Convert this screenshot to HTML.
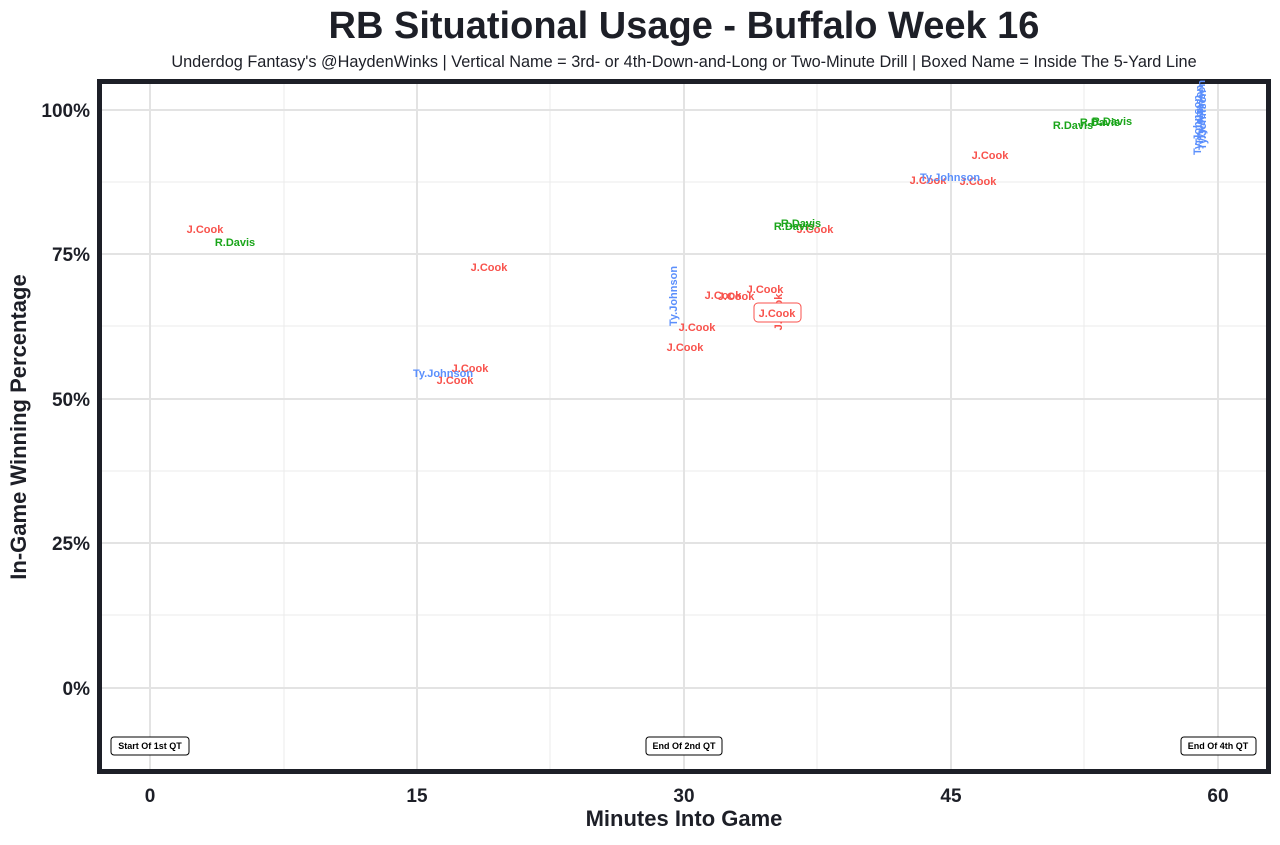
<!DOCTYPE html>
<html><head><meta charset="utf-8"><style>body{margin:0;background:#fff}</style></head><body>
<svg width="1280" height="840" xmlns="http://www.w3.org/2000/svg" font-family="Liberation Sans, sans-serif">
<rect width="1280" height="840" fill="#fff"/>
<text x="684" y="38" text-anchor="middle" font-size="38" font-weight="bold" fill="#1d1f27">RB Situational Usage - Buffalo Week 16</text>
<text x="684" y="67" text-anchor="middle" font-size="16.3" fill="#1d1f27">Underdog Fantasy's @HaydenWinks | Vertical Name = 3rd- or 4th-Down-and-Long or Two-Minute Drill | Boxed Name = Inside The 5-Yard Line</text>
<g stroke="#ebebeb" stroke-width="1">
<line x1="284" y1="80" x2="284" y2="773"/><line x1="550" y1="80" x2="550" y2="773"/><line x1="817" y1="80" x2="817" y2="773"/><line x1="1084" y1="80" x2="1084" y2="773"/>
<line x1="98" y1="182" x2="1270" y2="182"/><line x1="98" y1="326" x2="1270" y2="326"/><line x1="98" y1="471" x2="1270" y2="471"/><line x1="98" y1="615" x2="1270" y2="615"/>
</g>
<g stroke="#e3e3e3" stroke-width="2">
<line x1="150" y1="80" x2="150" y2="773"/><line x1="417" y1="80" x2="417" y2="773"/><line x1="684" y1="80" x2="684" y2="773"/><line x1="951" y1="80" x2="951" y2="773"/><line x1="1218" y1="80" x2="1218" y2="773"/>
<line x1="98" y1="110" x2="1270" y2="110"/><line x1="98" y1="254" x2="1270" y2="254"/><line x1="98" y1="399" x2="1270" y2="399"/><line x1="98" y1="543" x2="1270" y2="543"/><line x1="98" y1="688" x2="1270" y2="688"/>
</g>
<rect x="99.5" y="81.5" width="1169" height="690" fill="none" stroke="#1d1f27" stroke-width="5"/>
<g font-size="19" font-weight="bold" fill="#1d1f27" text-anchor="end">
<text x="90" y="117">100%</text><text x="90" y="261">75%</text><text x="90" y="406">50%</text><text x="90" y="550">25%</text><text x="90" y="695">0%</text>
</g>
<g font-size="19" font-weight="bold" fill="#1d1f27" text-anchor="middle">
<text x="150" y="802">0</text><text x="417" y="802">15</text><text x="684" y="802">30</text><text x="951" y="802">45</text><text x="1218" y="802">60</text>
</g>
<text x="684" y="826" text-anchor="middle" font-size="22" font-weight="bold" fill="#1d1f27">Minutes Into Game</text>
<text transform="translate(26,427) rotate(-90)" text-anchor="middle" font-size="22" font-weight="bold" fill="#1d1f27">In-Game Winning Percentage</text>
<g font-size="11" font-weight="bold" text-anchor="middle">
<g fill="#f8524c">
<text x="205" y="233">J.Cook</text><text x="489" y="271">J.Cook</text><text x="470" y="372">J.Cook</text><text x="455" y="384">J.Cook</text>
<text x="685" y="351">J.Cook</text><text x="697" y="331">J.Cook</text><text x="723" y="299">J.Cook</text><text x="736" y="300">J.Cook</text><text x="765" y="293">J.Cook</text>
<text transform="translate(782,312) rotate(-90)">J.Cook</text>
<text x="815" y="233">J.Cook</text><text x="928" y="184">J.Cook</text><text x="978" y="185">J.Cook</text><text x="990" y="159">J.Cook</text>
</g>
<rect x="754" y="303" width="47" height="19" rx="4" fill="#fff" stroke="#f8524c"/>
<text x="777" y="317" fill="#f8524c">J.Cook</text>
<g fill="#1aa51a">
<text x="235" y="246">R.Davis</text><text x="794" y="230">R.Davis</text><text x="801" y="227">R.Davis</text>
<text x="1073" y="129">R.Davis</text><text x="1100" y="126">R.Davis</text><text x="1112" y="125">R.Davis</text>
</g>
<g fill="#5b8ffc">
<text x="443" y="377">Ty.Johnson</text><text x="950" y="181">Ty.Johnson</text>
<text transform="translate(677,296) rotate(-90)">Ty.Johnson</text>
<text transform="translate(1201,125) rotate(-90)">Ty.Johnson</text>
<text transform="translate(1203,115) rotate(-90)">Ty.Johnson</text>
<text transform="translate(1205,110) rotate(-90)">Ty.Johnson</text>
<text transform="translate(1206,120) rotate(-90)">Ty.Johnson</text>
</g>
</g>
<g font-size="9" font-weight="bold" text-anchor="middle" fill="#000">
<rect x="111" y="737" width="78" height="18" rx="3" fill="#fff" stroke="#000"/><text x="150" y="749">Start Of 1st QT</text>
<rect x="646" y="737" width="76" height="18" rx="3" fill="#fff" stroke="#000"/><text x="684" y="749">End Of 2nd QT</text>
<rect x="1181" y="737" width="75" height="18" rx="3" fill="#fff" stroke="#000"/><text x="1218" y="749">End Of 4th QT</text>
</g>
</svg>
</body></html>
